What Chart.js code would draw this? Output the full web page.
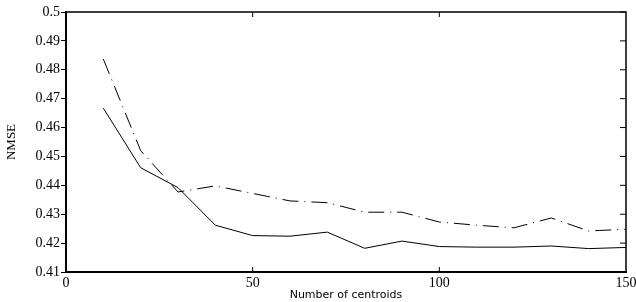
<!DOCTYPE html>
<html>
<head>
<meta charset="utf-8">
<script src="https://cdn.jsdelivr.net/npm/chart.js@4.4.1/dist/chart.umd.min.js"></script>
<style>
  html, body { margin: 0; padding: 0; background: #fff; }
  #wrap { width: 636px; height: 302px; }
</style>
</head>
<body>
<div id="wrap"><canvas id="nmseChart"></canvas></div>
<script>
const centroids = [10, 20, 30, 40, 50, 60, 70, 80, 90, 100, 110, 120, 130, 140, 150];
const solidNmse = [0.4667, 0.4461, 0.4392, 0.4262, 0.4226, 0.4224, 0.4238, 0.4182, 0.4207, 0.4188, 0.4186, 0.4186, 0.4190, 0.4181, 0.4185];
const dashedNmse = [0.4837, 0.4520, 0.4377, 0.4398, 0.4372, 0.4346, 0.4340, 0.4307, 0.4307, 0.4273, 0.4262, 0.4253, 0.4287, 0.4242, 0.4248];
const xTicks = [0, 50, 100, 150];
const yTicks = [0.41, 0.42, 0.43, 0.44, 0.45, 0.46, 0.47, 0.48, 0.49, 0.5];

const serif = "'Liberation Serif', 'Times New Roman', 'DejaVu Serif', serif";

const toPoints = (ys) => centroids.map((c, i) => ({ x: c, y: ys[i] }));

// box around the plot with inward tick marks on top/right/bottom
const boxPlugin = {
    id: 'boxPlugin',
    afterDraw(chart) {
        const { ctx, chartArea: a, scales } = chart;
        ctx.save();
        ctx.strokeStyle = '#000';
        ctx.lineWidth = 1.5;
        ctx.beginPath();
        ctx.moveTo(a.left, a.top);
        ctx.lineTo(a.right, a.top);
        ctx.lineTo(a.right, a.bottom);
        ctx.stroke();
        ctx.lineWidth = 1;
        ctx.beginPath();
        yTicks.forEach(v => {
            const y = scales.y.getPixelForValue(v);
            ctx.moveTo(a.right, y);
            ctx.lineTo(a.right - 6, y);
        });
        xTicks.slice(1, -1).forEach(v => {
            const x = scales.x.getPixelForValue(v);
            ctx.moveTo(x, a.bottom);
            ctx.lineTo(x, a.bottom - 5);
            ctx.moveTo(x, a.top);
            ctx.lineTo(x, a.top + 5);
        });
        ctx.stroke();
        ctx.restore();
    }
};

new Chart(document.getElementById('nmseChart'), {
    type: 'line',
    data: {
        datasets: [
            {
                data: toPoints(solidNmse),
                borderColor: '#000',
                borderWidth: 1,
                pointRadius: 0,
                tension: 0,
                fill: false
            },
            {
                data: toPoints(dashedNmse),
                borderColor: '#000',
                borderWidth: 1,
                borderDash: [16, 6, 1, 6],
                pointRadius: 0,
                tension: 0,
                fill: false
            }
        ]
    },
    options: {
        responsive: true,
        maintainAspectRatio: false,
        animation: false,
        layout: { padding: { top: 12, right: 10, left: 0, bottom: 0 } },
        plugins: {
            legend: { display: false },
            tooltip: { enabled: false }
        },
        scales: {
            x: {
                type: 'linear',
                min: 0,
                max: 150,
                afterBuildTicks: (scale) => { scale.ticks = xTicks.map(v => ({ value: v })); },
                afterFit: (scale) => {
                    scale.height = 30;
                    scale.paddingLeft = 0;
                    scale.paddingRight = 0;
                },
                grid: { display: false, drawTicks: false },
                border: { display: true, color: '#000', width: 2 },
                ticks: {
                    color: '#000',
                    padding: 3,
                    maxRotation: 0,
                    font: { family: serif, size: 14 }
                },
                title: {
                    display: true,
                    text: 'Number of centroids',
                    color: '#000',
                    padding: { top: 0, bottom: 0 },
                    font: { family: "'DejaVu Sans', sans-serif", size: 11 }
                }
            },
            y: {
                min: 0.41,
                max: 0.5,
                afterBuildTicks: (scale) => { scale.ticks = yTicks.map(v => ({ value: v })); },
                afterFit: (scale) => { scale.width = 66; },
                grid: { drawOnChartArea: false, drawTicks: true, tickLength: 5, color: '#000' },
                border: { display: true, color: '#000', width: 2 },
                ticks: {
                    color: '#000',
                    padding: 1,
                    font: { family: serif, size: 14 },
                    callback: (v) => String(+Number(v).toFixed(2))
                },
                title: {
                    display: true,
                    text: 'NMSE',
                    color: '#000',
                    padding: { top: 4, bottom: 2 },
                    font: { family: serif, size: 13 }
                }
            }
        }
    },
    plugins: [boxPlugin]
});
</script>
</body>
</html>
